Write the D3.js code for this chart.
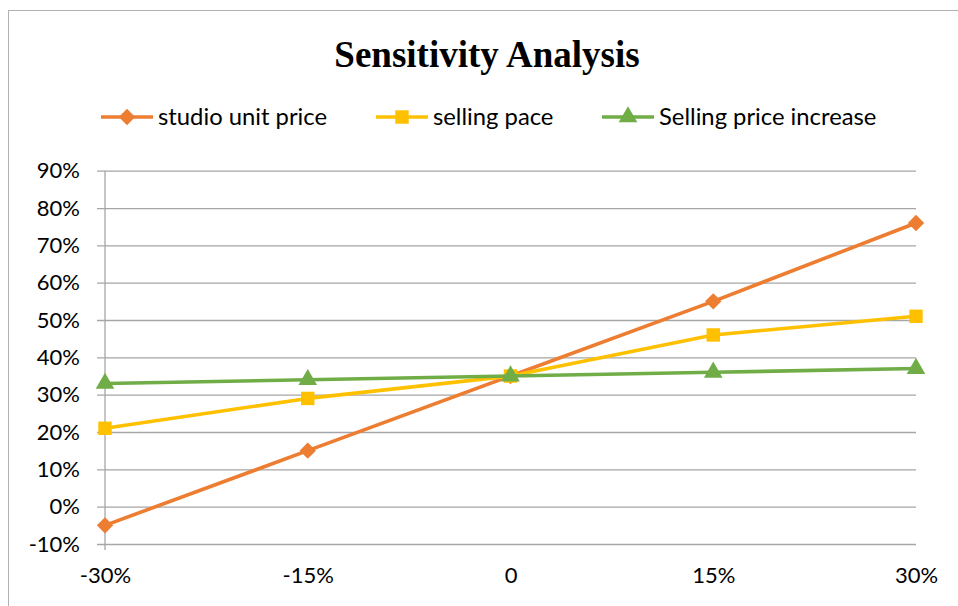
<!DOCTYPE html>
<html>
<head>
<meta charset="utf-8">
<script src="https://cdn.jsdelivr.net/npm/d3@7"></script>
<style>
  body { margin: 0; background: #fff; }
  svg text { font-family: Lato, "Open Sans", sans-serif; }
</style>
</head>
<body>
<svg width="958" height="606"></svg>
<script>
// data
var categories = ["-30%", "-15%", "0", "15%", "30%"];
var studioUnitPrice = [-5, 15, 35, 55, 76];
var sellingPace = [21, 29, 35, 46, 51];
var sellingPriceIncrease = [33, 34, 35, 36, 37];
var yTicks = [-10, 0, 10, 20, 30, 40, 50, 60, 70, 80, 90];

var series = [
  {name: "studio unit price", values: studioUnitPrice, color: "#ED7D31", symbol: d3.symbolDiamond2, size: 170},
  {name: "selling pace", values: sellingPace, color: "#FFC000", symbol: d3.symbolSquare, size: 180},
  {name: "Selling price increase", values: sellingPriceIncrease, color: "#70AD47", symbol: d3.symbolTriangle, size: 150}
];

var svg = d3.select("svg");

// outer chart border
svg.append("rect")
    .attr("x", 8.5).attr("y", 10.5)
    .attr("width", 1000).attr("height", 700)
    .attr("fill", "none")
    .attr("stroke", "#b0b0b0")
    .attr("stroke-width", 1);

var plotLeft = 105, plotRight = 916, plotTop = 170.7, plotBottom = 544;

var x = d3.scalePoint().domain(categories).range([plotLeft, plotRight]);
var y = d3.scaleLinear().domain([-10, 90]).range([plotBottom, plotTop]);

// gridlines + y ticks
var gy = svg.append("g")
    .attr("transform", "translate(" + (plotLeft - 8) + ",0)")
    .call(d3.axisLeft(y)
        .tickValues(yTicks)
        .tickSize(0)
        .tickFormat(d => d + "%"));
gy.select(".domain").remove();
gy.selectAll(".tick line")
    .attr("x1", 0)
    .attr("x2", plotRight - plotLeft + 8)
    .attr("stroke", "#a6a6a6")
    .attr("stroke-width", 1.3);
gy.selectAll(".tick text")
    .attr("x", -17)
    .attr("font-size", 22)
    .attr("fill", "#000");

// vertical axis line
svg.append("line")
    .attr("x1", plotLeft).attr("x2", plotLeft)
    .attr("y1", plotTop).attr("y2", plotBottom + 6)
    .attr("stroke", "#a6a6a6")
    .attr("stroke-width", 1.3);

// x labels
var gx = svg.append("g")
    .attr("transform", "translate(0," + plotBottom + ")")
    .call(d3.axisBottom(x).tickSize(0).tickPadding(23));
gx.select(".domain").remove();
gx.selectAll(".tick text")
    .attr("font-size", 22)
    .attr("fill", "#000");

// lines
var line = d3.line()
    .x((d, i) => x(categories[i]))
    .y(d => y(d));

series.forEach(function(s) {
  svg.append("path")
      .datum(s.values)
      .attr("d", line)
      .attr("fill", "none")
      .attr("stroke", s.color)
      .attr("stroke-width", 3.6)
      .attr("stroke-linejoin", "round");

  svg.append("g")
      .selectAll("path")
      .data(s.values)
      .join("path")
      .attr("d", d3.symbol().type(s.symbol).size(s.size))
      .attr("transform", (d, i) => "translate(" + x(categories[i]) + "," + y(d) + ")")
      .attr("fill", s.color);
});

// title
svg.append("text")
    .attr("x", 487).attr("y", 67)
    .attr("text-anchor", "middle")
    .style("font-family", "'Liberation Serif', 'DejaVu Serif', serif")
    .attr("font-weight", "bold")
    .attr("font-size", 37)
    .text("Sensitivity Analysis");

// legend
var legendX = [101, 376, 602];
var legend = svg.append("g")
    .selectAll("g")
    .data(series)
    .join("g")
    .attr("transform", (d, i) => "translate(" + legendX[i] + ",117)");

legend.append("line")
    .attr("x1", 0).attr("x2", 52)
    .attr("stroke", d => d.color)
    .attr("stroke-width", 3.6);
legend.append("path")
    .attr("d", d => d3.symbol().type(d.symbol).size(d.size)())
    .attr("transform", "translate(26,0)")
    .attr("fill", d => d.color);
legend.append("text")
    .attr("x", 57)
    .attr("dy", "0.35em")
    .attr("font-size", 23.8)
    .text(d => d.name);
</script>
</body>
</html>
